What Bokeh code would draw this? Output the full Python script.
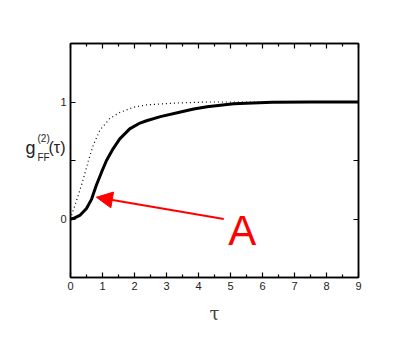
from bokeh.plotting import figure
from bokeh.models import (Range1d, FixedTicker, LinearAxis, Label, Arrow, NormalHead,
                          CustomJSTickFormatter)
from bokeh.embed import file_html
from bokeh.resources import INLINE

# Solid curve g_FF^(2)(tau)
tau_solid = [0.0, 0.08, 0.29, 0.5, 0.66, 0.81, 0.97, 1.125, 1.33, 1.54, 1.85, 2.17,
             2.375, 2.81, 3.44, 3.85, 4.27, 5.1, 6.3, 7.5, 9.0]
g_solid = [0.0, 0.004, 0.03, 0.09, 0.17, 0.29, 0.40, 0.50, 0.60, 0.685, 0.77, 0.82,
           0.84, 0.875, 0.915, 0.94, 0.96, 0.985, 0.997, 1.0, 1.0]

# Dotted reference curve
tau_dot = [0.0, 0.08, 0.24, 0.4, 0.55, 0.71, 0.92, 1.23, 1.54, 1.96, 2.375, 3.2, 4.27, 6.0, 9.0]
g_dot = [0.0, 0.07, 0.2, 0.34, 0.49, 0.63, 0.76, 0.86, 0.91, 0.955, 0.975, 0.99, 1.0, 1.0, 1.0]

x_ticks = [0, 1, 2, 3, 4, 5, 6, 7, 8, 9]
y_ticks = [0, 0.5, 1]
y_labels = {0: "0", 0.5: " ", 1: "1"}

# Arrow annotation (data coordinates)
arrow_start = (4.79, 0.0)
arrow_end = (0.81, 0.186)
label_text = "A"
label_pos = (4.93, -0.098)

FONT = "Liberation Sans"

p = figure(width=385, height=330, output_backend="svg", toolbar_location=None,
           x_range=Range1d(0, 9), y_range=Range1d(-0.5, 1.5),
           min_border_left=70, min_border_right=27, min_border_top=43, min_border_bottom=53)
p.grid.visible = False
p.outline_line_color = "black"
p.outline_line_width = 1.5
p.background_fill_color = "white"
p.border_fill_color = "white"

p.line(tau_dot, g_dot, line_color="black", line_width=1.2, line_dash="1 3")
p.line(tau_solid, g_solid, line_color="black", line_width=3)

blank = CustomJSTickFormatter(code="return ''")

def style_x(ax, labels=True):
    ax.ticker = FixedTicker(ticks=x_ticks, minor_ticks=[i + 0.5 for i in range(9)])
    ax.major_tick_in = 5
    ax.major_tick_out = 0
    ax.minor_tick_in = 3
    ax.minor_tick_out = 0
    ax.axis_line_width = 1.5
    ax.major_tick_line_width = 1.2
    ax.minor_tick_line_width = 1.2
    ax.major_label_text_font = FONT
    ax.major_label_text_font_size = "11px"
    ax.major_label_text_color = "#222222"
    ax.major_label_standoff = 4
    if not labels:
        ax.formatter = blank

def style_y(ax, labels=True):
    ax.ticker = FixedTicker(ticks=y_ticks, minor_ticks=[])
    ax.major_tick_in = 5
    ax.major_tick_out = 0
    ax.minor_tick_in = 0
    ax.minor_tick_out = 0
    ax.axis_line_width = 1.5
    ax.major_tick_line_width = 1.2
    ax.major_label_text_font = FONT
    ax.major_label_text_font_size = "11px"
    ax.major_label_text_color = "#222222"
    ax.major_label_standoff = 4
    if labels:
        ax.major_label_overrides = y_labels
    else:
        ax.formatter = blank

style_x(p.xaxis[0])
p.xaxis[0].axis_label = "τ"
p.xaxis[0].axis_label_text_font = "DejaVu Serif"
p.xaxis[0].axis_label_text_font_style = "normal"
p.xaxis[0].axis_label_text_font_size = "18px"
p.xaxis[0].axis_label_standoff = 10
style_y(p.yaxis[0])

top = LinearAxis()
style_x(top, labels=False)
p.add_layout(top, "above")
right = LinearAxis()
style_y(right, labels=False)
p.add_layout(right, "right")

# y-axis label composed of pieces (canvas pixel positions), placed in the left side panel
for txt, x, y, size in [("g", 25, 147, "18px"),
                        ("(2)", 37, 138, "10px"),
                        ("FF", 37, 157, "10px"),
                        ("(τ)", 48, 147, "16px")]:
    p.add_layout(Label(x=x, y=y, x_units="canvas", y_units="canvas", text=txt,
                       text_font=FONT, text_font_size=size,
                       text_color="#222222", text_baseline="alphabetic"), "left")

p.add_layout(Arrow(end=NormalHead(size=16, fill_color="red", line_color="red"),
                   x_start=arrow_start[0], y_start=arrow_start[1],
                   x_end=arrow_end[0], y_end=arrow_end[1],
                   line_color="red", line_width=2))
p.add_layout(Label(x=label_pos[0], y=label_pos[1], text=label_text, text_font=FONT,
                   text_font_size="42px", text_color="red", text_baseline="alphabetic"))

open("out.html", "w").write(file_html(p, INLINE))
